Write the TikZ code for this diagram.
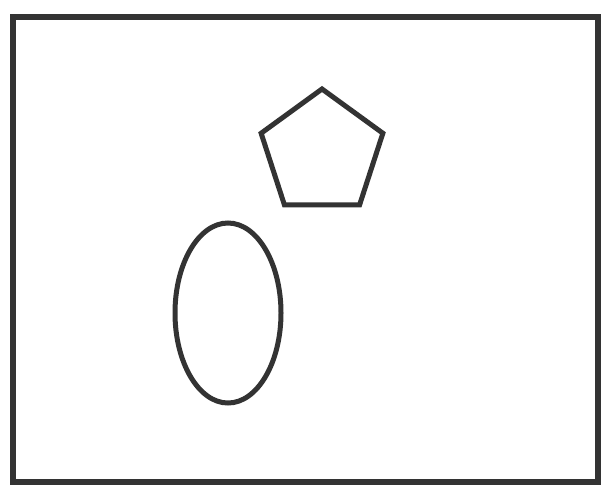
\documentclass[tikz,border=0pt]{standalone}
\usetikzlibrary{shapes.geometric}
\definecolor{ink}{HTML}{333333}
\begin{document}
\begin{tikzpicture}[x=1pt,y=-1pt,
  outline/.style={draw=ink,line width=5pt,line join=miter}]
\useasboundingbox (0,0) rectangle (604,485);
\fill[white] (0,0) rectangle (604,485);
\draw[outline,line width=5.5pt] (13,17) rectangle (598,482);
\node[outline,regular polygon,regular polygon sides=5,minimum size=128pt,inner sep=0pt] (pent) at (322,153) {};
\node[outline,ellipse,minimum width=106pt,minimum height=180pt,inner sep=0pt] (ell) at (228,313) {};
\end{tikzpicture}
\end{document}
